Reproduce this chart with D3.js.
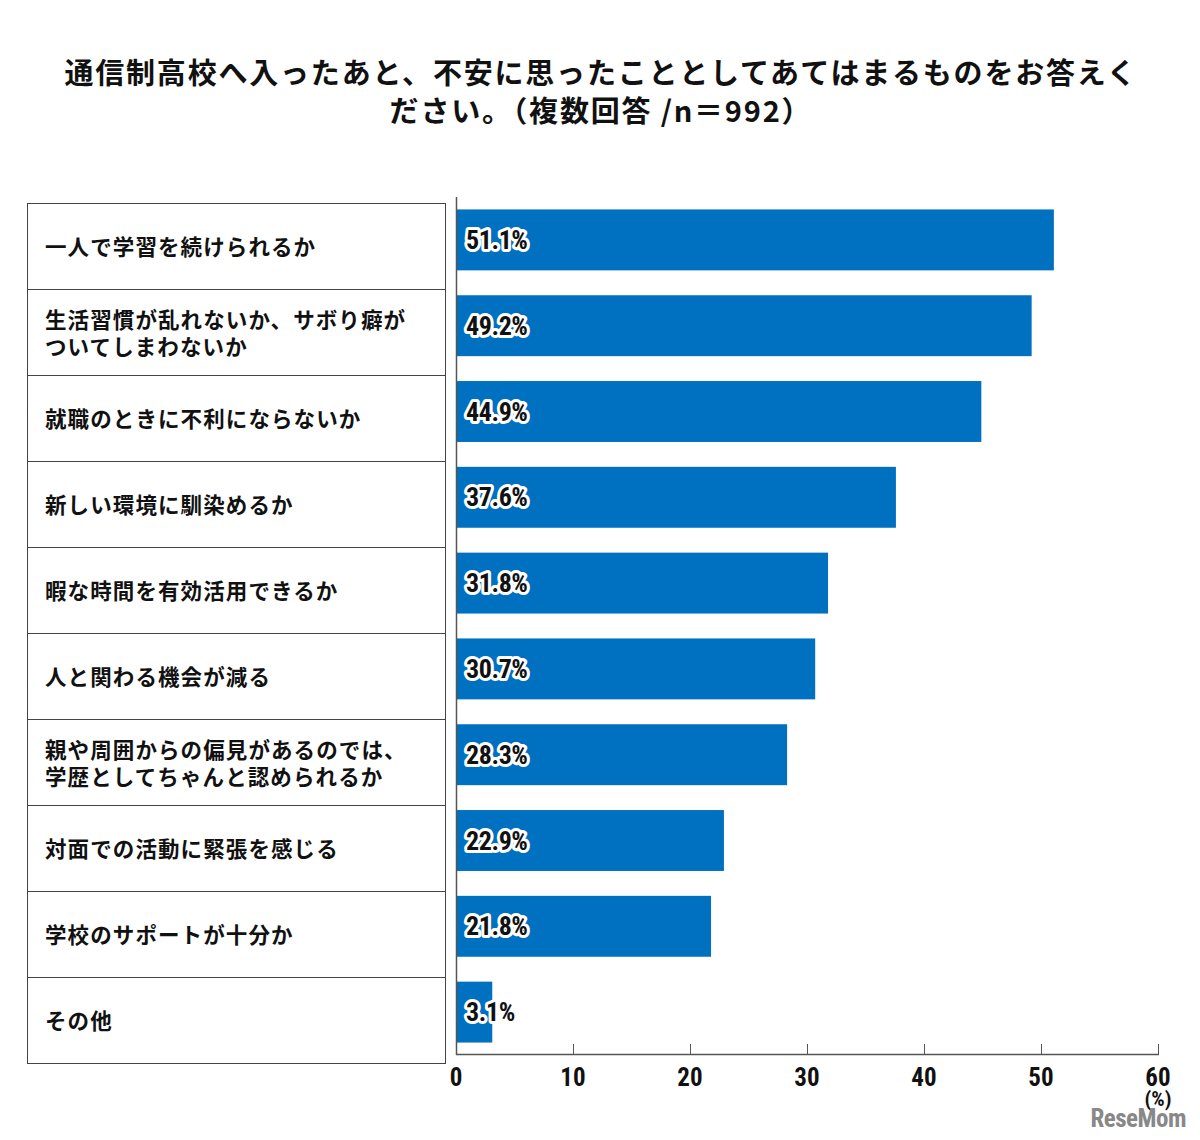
<!DOCTYPE html>
<html><head><meta charset="utf-8">
<script src="https://cdn.jsdelivr.net/npm/d3@7"></script>
<style>
body{margin:0;background:#fff;}
svg{display:block;}
.jp{font-family:"Noto Sans CJK JP","Noto Sans",sans-serif;font-weight:700;}
.num{font-family:"Liberation Sans Narrow","Roboto Condensed","Noto Sans",sans-serif;font-weight:700;}
</style></head>
<body>
<script>
const titleLines = ["通信制高校へ入ったあと、不安に思ったこととしてあてはまるものをお答えく", "ださい。（複数回答 /n＝992）"];
const categories = [
  ["一人で学習を続けられるか"],
  ["生活習慣が乱れないか、サボり癖が", "ついてしまわないか"],
  ["就職のときに不利にならないか"],
  ["新しい環境に馴染めるか"],
  ["暇な時間を有効活用できるか"],
  ["人と関わる機会が減る"],
  ["親や周囲からの偏見があるのでは、", "学歴としてちゃんと認められるか"],
  ["対面での活動に緊張を感じる"],
  ["学校のサポートが十分か"],
  ["その他"]
];
const values = [51.1, 49.2, 44.9, 37.6, 31.8, 30.7, 28.3, 22.9, 21.8, 3.1];
const ticks = [0, 10, 20, 30, 40, 50, 60];

const W = 1200, H = 1140;
const svg = d3.select("body").append("svg").attr("width", W).attr("height", H);

// title
svg.append("text").attr("class","jp").attr("text-anchor","middle")
  .attr("font-size",29).attr("letter-spacing",1.8).attr("fill","#111")
  .selectAll("tspan").data(titleLines).join("tspan")
  .attr("x",601).attr("y",(d,i)=>84+i*38).text(d=>d);

const x = d3.scaleLinear().domain([0,60]).range([456,1158]);
const idx = d3.range(categories.length);
const y = d3.scaleBand().domain(idx).range([197,1055]).paddingInner(0.29).paddingOuter(0.145);
const rowY = d3.scaleBand().domain(idx).range([203,1063]);

// label table
const tbl = svg.append("g");
tbl.append("rect").attr("x",27.5).attr("y",203.5).attr("width",418).attr("height",860)
  .attr("fill","none").attr("stroke","#444").attr("stroke-width",1);
tbl.selectAll("line.row").data(idx.slice(1)).join("line")
  .attr("x1",27.5).attr("x2",445.5)
  .attr("y1",d=>Math.round(rowY(d))+0.5).attr("y2",d=>Math.round(rowY(d))+0.5)
  .attr("stroke","#444").attr("stroke-width",1);
tbl.selectAll("text.cat").data(idx).join("text").attr("class","jp")
  .attr("font-size",21.5).attr("letter-spacing",1.1).attr("fill","#111")
  .each(function(i){
    const lines = categories[i];
    const cy = rowY(i) + rowY.bandwidth()/2;
    const lh = 27;
    const t = d3.select(this);
    lines.forEach((l,k)=>{
      t.append("tspan").attr("x",45)
       .attr("y", cy + (k - (lines.length-1)/2)*lh + 9).text(l);
    });
  });

// bars
svg.selectAll("rect.bar").data(idx).join("rect")
  .attr("x",x(0)).attr("y",i=>y(i)).attr("width",i=>x(values[i])-x(0))
  .attr("height",y.bandwidth()).attr("fill","#0070C0");

// value labels
const vl = svg.selectAll("g.vl").data(idx).join("g");
vl.append("text").attr("class","num").attr("x",466).attr("y",i=>y(i)+y.bandwidth()/2+9)
  .attr("font-size",26).attr("fill","none").attr("stroke","#fff").attr("stroke-width",6)
  .attr("stroke-linejoin","round").attr("letter-spacing",-0.4)
  .text(i=>values[i].toFixed(1)+"%");
vl.append("text").attr("class","num").attr("x",466).attr("y",i=>y(i)+y.bandwidth()/2+9)
  .attr("font-size",26).attr("fill","#111").attr("letter-spacing",-0.4)
  .text(i=>values[i].toFixed(1)+"%");

// axes
svg.append("line").attr("x1",456.5).attr("x2",456.5).attr("y1",197).attr("y2",1055)
  .attr("stroke","#555").attr("stroke-width",1.5);
svg.append("line").attr("x1",456).attr("x2",1159).attr("y1",1054.5).attr("y2",1054.5)
  .attr("stroke","#555").attr("stroke-width",1.5);
svg.selectAll("line.tick").data(ticks).join("line")
  .attr("x1",d=>x(d)+0.5).attr("x2",d=>x(d)+0.5).attr("y1",1044).attr("y2",1055)
  .attr("stroke","#555").attr("stroke-width",1);
svg.selectAll("text.tl").data(ticks).join("text").attr("class","num")
  .attr("x",d=>x(d)).attr("y",1086).attr("text-anchor","middle")
  .attr("font-size",25).attr("fill","#111").text(d=>d);
svg.append("text").attr("class","num").attr("x",1158).attr("y",1106).attr("text-anchor","middle")
  .attr("font-size",21).attr("fill","#111").text("(%)");

// watermark
svg.append("text").attr("class","num").attr("x",1186).attr("y",1127).attr("text-anchor","end")
  .attr("font-size",25).attr("fill","#888").attr("letter-spacing",-0.5).text("ReseMom");
</script>
</body></html>
